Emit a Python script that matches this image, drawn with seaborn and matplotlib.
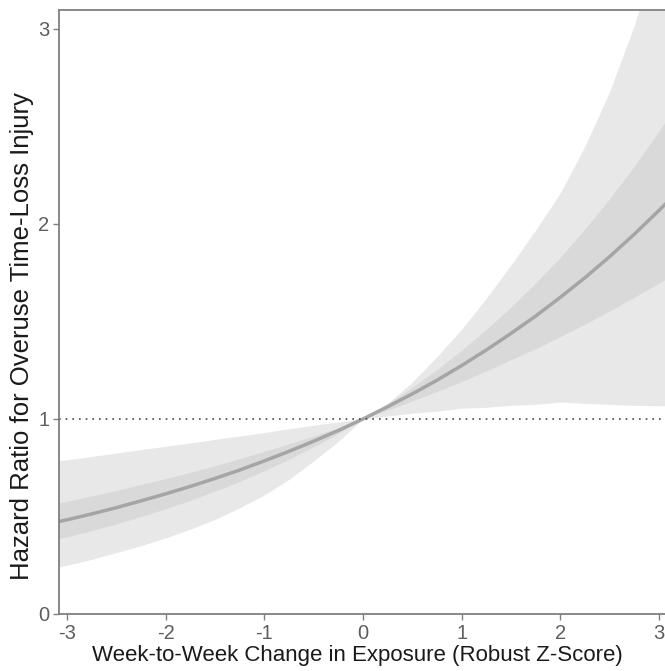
import numpy as np
import pandas as pd
import seaborn as sns
import matplotlib
matplotlib.use("Agg")
import matplotlib.pyplot as plt

# values
z = [-3.1, -3.0, -2.75, -2.5, -2.25, -2.0, -1.75, -1.5, -1.25, -1.0, -0.75, -0.5, -0.25, 0.0,
     0.25, 0.5, 0.75, 1.0, 1.25, 1.5, 1.75, 2.0, 2.25, 2.5, 2.75, 3.0, 3.1]
hr = [0.472, 0.483, 0.513, 0.545, 0.580, 0.616, 0.654, 0.695, 0.738, 0.785, 0.834, 0.886, 0.941, 1.0,
      1.063, 1.129, 1.199, 1.274, 1.354, 1.439, 1.528, 1.624, 1.725, 1.833, 1.948, 2.07, 2.12]
inner_lo = [0.385, 0.396, 0.428, 0.462, 0.500, 0.540, 0.583, 0.630, 0.680, 0.735, 0.794, 0.858, 0.926, 1.0,
            1.046, 1.093, 1.141, 1.192, 1.247, 1.304, 1.361, 1.423, 1.487, 1.554, 1.625, 1.697, 1.728]
inner_hi = [0.568, 0.578, 0.605, 0.633, 0.664, 0.694, 0.727, 0.760, 0.796, 0.834, 0.872, 0.913, 0.955, 1.0,
            1.079, 1.163, 1.254, 1.353, 1.460, 1.574, 1.698, 1.830, 1.975, 2.130, 2.297, 2.478, 2.552]
outer_lo = [0.24, 0.25, 0.28, 0.315, 0.35, 0.39, 0.435, 0.485, 0.545, 0.61, 0.69, 0.785, 0.885, 1.0,
            1.015, 1.03, 1.04, 1.055, 1.06, 1.07, 1.075, 1.087, 1.08, 1.075, 1.07, 1.068, 1.068]
outer_hi = [0.785, 0.79, 0.808, 0.825, 0.843, 0.86, 0.877, 0.895, 0.913, 0.93, 0.95, 0.968, 0.985, 1.0,
            1.08, 1.19, 1.32, 1.46, 1.62, 1.79, 1.97, 2.16, 2.40, 2.68, 3.02, 3.42, 3.6]

df = pd.DataFrame({"z": z, "hr": hr, "ilo": inner_lo, "ihi": inner_hi,
                   "olo": outer_lo, "ohi": outer_hi})

sns.set_style("white")
plt.rcParams["font.family"] = ["Liberation Sans", "DejaVu Sans"]
plt.rcParams["axes.unicode_minus"] = False

fig = plt.figure(figsize=(6.65, 6.71), dpi=100)
ax = fig.add_axes([0.0887, 0.085, 0.9113, 0.900])

ax.fill_between(df["z"], df["olo"], df["ohi"], color="#e8e8e8", lw=0)
ax.fill_between(df["z"], df["ilo"], df["ihi"], color="#d9d9d9", lw=0)
sns.lineplot(data=df, x="z", y="hr", ax=ax, color="#a5a5a5", lw=2.5)
ax.axhline(1, color="#444444", ls=(0, (1, 3)), lw=1.2)

ax.set_xlim(-3.081, 3.06)
ax.set_ylim(0, 3.097)
ax.set_xticks([-3, -2, -1, 0, 1, 2, 3])
ax.set_yticks([0, 1, 2, 3])
ax.set_xlabel("Week-to-Week Change in Exposure (Robust Z-Score)", fontsize=16, color="#1a1a1a")
ax.set_ylabel("Hazard Ratio for Overuse Time-Loss Injury", fontsize=18.5, color="#1a1a1a")
ax.xaxis.set_label_coords(0.492, -0.051)
ax.yaxis.set_label_coords(-0.041, 0.46)
ax.tick_params(axis="both", colors="#7f7f7f", labelcolor="#5e5e5e", labelsize=14.5,
               length=4, width=1, direction="out", bottom=True, left=True, pad=3)
for s in ["left", "bottom", "top"]:
    ax.spines[s].set_color("#7f7f7f")
    ax.spines[s].set_linewidth(1.3)
ax.spines["right"].set_visible(False)

plt.savefig("out.png", dpi=100)
